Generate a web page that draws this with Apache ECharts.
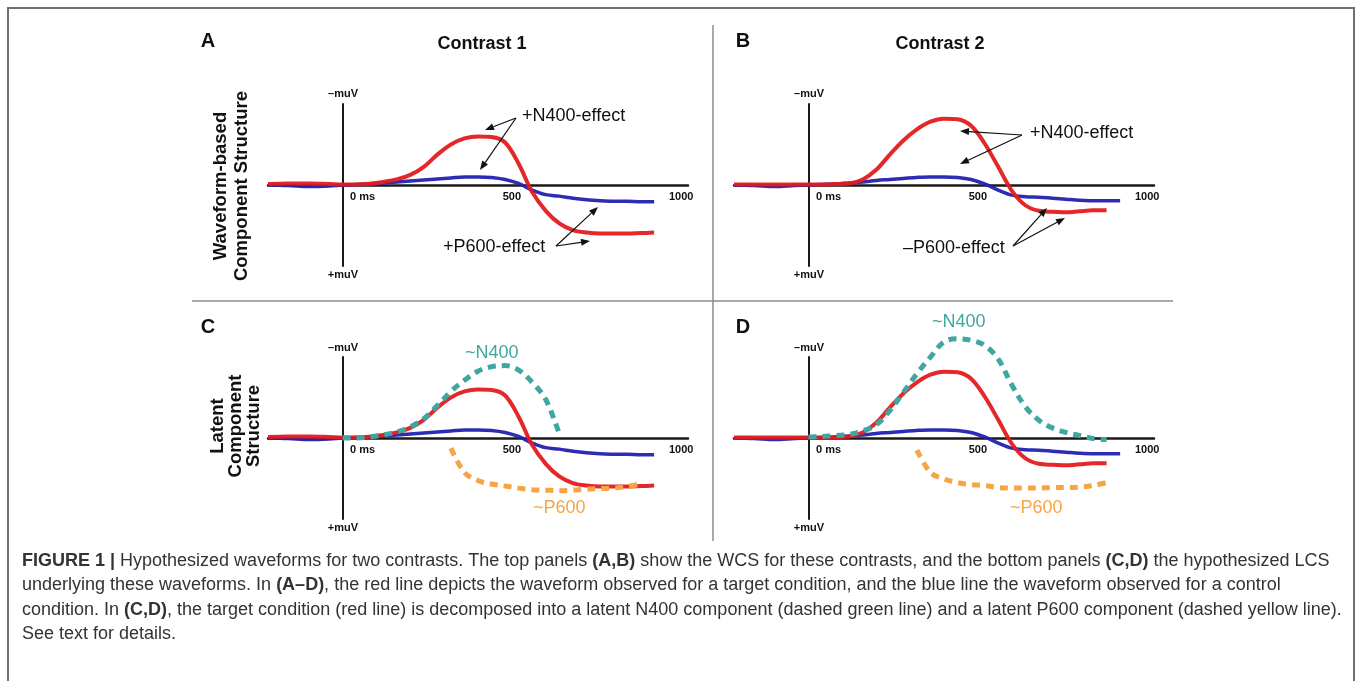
<!DOCTYPE html>
<html>
<head>
<meta charset="utf-8">
<script src="https://cdn.jsdelivr.net/npm/echarts@6/dist/echarts.min.js"></script>
<style>
  html, body { margin: 0; padding: 0; background: #fff; }
  #main { width: 1358px; height: 681px; }
</style>
</head>
<body>
<div id="main"></div>
<script>
// time in ms, amplitude in muV (negative is drawn upwards, ERP style)
var timesMs = [-220, -160, -100, -40, 0, 40, 80, 120, 160, 200,
               240, 280, 320, 360, 400, 440, 480, 520, 560, 600,
               640, 680, 720, 760, 800, 840, 880, 920];

// observed waveforms, contrast 1 (panels A and C)
var redContrast1  = [-0.1, -0.15, -0.15, -0.1, -0.05, -0.05, -0.12, -0.3, -0.55, -1.0,
                     -1.8, -3.0, -4.0, -4.6, -4.8, -4.75, -4.2, -2.1, 0.7, 2.55,
                     3.8, 4.45, 4.7, 4.8, 4.8, 4.8, 4.75, 4.7];
var blueContrast1 = [0, 0.05, 0.15, 0.1, 0, -0.05, -0.1, -0.2, -0.3, -0.4,
                     -0.5, -0.6, -0.7, -0.8, -0.8, -0.75, -0.55, -0.15, 0.5, 0.95,
                     1.1, 1.3, 1.45, 1.55, 1.6, 1.6, 1.65, 1.65];
// observed waveforms, contrast 2 (panels B and D)
var redContrast2  = [-0.05, -0.05, -0.05, -0.05, -0.05, -0.05, -0.1, -0.15, -0.55, -1.5,
                     -3.0, -4.4, -5.5, -6.25, -6.55, -6.5, -5.85, -4.1, -1.8, 0.55,
                     2.0, 2.55, 2.65, 2.7, 2.6, 2.5, 2.5, null];
var blueContrast2 = [0, 0.05, 0.15, 0.05, 0, -0.05, -0.1, -0.2, -0.3, -0.45,
                     -0.55, -0.65, -0.75, -0.8, -0.8, -0.75, -0.55, -0.1, 0.5, 1.0,
                     1.15, 1.2, 1.3, 1.4, 1.5, 1.55, 1.55, 1.55];
// latent components (panels C and D)
var n400Contrast1 = [null, null, null, null, 0, 0, -0.1, -0.3, -0.6, -1.1,
                     -1.9, -3.2, -4.6, -5.7, -6.6, -7.05, -7.15, -6.7, -5.5, -3.8,
                     -0.4, null, null, null, null, null, null, null];
var p600Contrast1 = [null, null, null, null, null, null, null, null, null, null,
                     null, null, 1.0, 3.4, 4.2, 4.55, 4.75, 4.95, 5.1, 5.15,
                     5.2, 5.15, 5.05, 5.0, 4.95, 4.8, 4.55, null];
var n400Contrast2 = [null, null, null, null, -0.1, -0.15, -0.25, -0.35, -0.7, -1.3,
                     -2.7, -4.5, -6.35, -8.0, -9.5, -9.8, -9.65, -9.15, -7.8, -5.25,
                     -3.1, -1.75, -1.0, -0.55, -0.25, 0.05, 0.15, null];
var p600Contrast2 = [null, null, null, null, null, null, null, null, null, null,
                     null, null, 1.2, 3.4, 4.05, 4.4, 4.6, 4.7, 4.9, 4.95,
                     4.95, 4.95, 4.9, 4.9, 4.85, 4.7, 4.4, null];

var xTickValues = [0, 500, 1000];

var RED = '#e31b1d', BLUE = '#2222b0', TEAL = '#3ea7a1', ORANGE = '#f7a443', INK = '#1a1a1a';
var FONT = '"Liberation Sans", Arial, sans-serif';
var GRID_H = 162;

var panels = [
    { left: 268, top: 104, red: redContrast1, blue: blueContrast1 },
    { left: 734, top: 104, red: redContrast2, blue: blueContrast2 },
    { left: 268, top: 357, red: redContrast1, blue: blueContrast1, n400: n400Contrast1, p600: p600Contrast1 },
    { left: 734, top: 357, red: redContrast2, blue: blueContrast2, n400: n400Contrast2, p600: p600Contrast2 }
];

function pairs(vals) {
    return timesMs.map(function (t, i) {
        return [t, vals[i] == null ? '-' : vals[i]];
    });
}

var grids = [], xAxes = [], yAxes = [], series = [];
panels.forEach(function (p, i) {
    grids.push({ left: p.left, top: p.top, width: 420, height: GRID_H });
    // x axis drawn through the zero line of the symmetric y range (-8..8)
    xAxes.push({
        type: 'value', gridIndex: i, min: -220, max: 1020,
        offset: -GRID_H / 2,
        axisLine: { onZero: false, lineStyle: { color: INK, width: 2.5 } },
        axisTick: { show: false },
        splitLine: { show: false },
        axisLabel: {
            customValues: xTickValues,
            margin: 6,
            fontSize: 11, fontWeight: 'bold', color: '#111', fontFamily: FONT,
            formatter: function (v) { return v === 0 ? '{z|0 ms}' : String(v); },
            rich: { z: { fontSize: 11, fontWeight: 'bold', color: '#111', fontFamily: FONT, padding: [0, 0, 0, 40] } }
        }
    });
    yAxes.push({
        type: 'value', gridIndex: i, min: -8, max: 8, inverse: true,
        axisLine: { onZero: true, lineStyle: { color: INK, width: 2 } },
        axisTick: { show: false }, axisLabel: { show: false }, splitLine: { show: false }
    });
    var base = { type: 'line', xAxisIndex: i, yAxisIndex: i, showSymbol: false, smooth: 0.35,
                 clip: false, silent: true, animation: false };
    series.push(Object.assign({}, base, { data: pairs(p.blue), z: 3,
        lineStyle: { color: BLUE, width: 3.5, opacity: 0.95 } }));
    series.push(Object.assign({}, base, { data: pairs(p.red), z: 4,
        lineStyle: { color: RED, width: 4, opacity: 0.95 } }));
    if (p.n400) {
        series.push(Object.assign({}, base, { data: pairs(p.n400), z: 5,
            lineStyle: { color: TEAL, width: 5, type: [8, 6] } }));
        series.push(Object.assign({}, base, { data: pairs(p.p600), z: 5,
            lineStyle: { color: ORANGE, width: 5, type: [8, 6] } }));
    }
});

// ---- annotations ----
function txt(s, x, y, opt) {
    opt = opt || {};
    return { type: 'text', x: x, y: y, rotation: opt.rot || 0, z: 10,
        style: { text: s, x: 0, y: 0, fill: opt.color || '#111',
                 font: (opt.weight || 'normal') + ' ' + (opt.size || 18) + 'px ' + FONT,
                 align: opt.align || 'left', verticalAlign: 'middle',
                 lineHeight: opt.lh, rich: opt.rich } };
}
function arrow(x1, y1, x2, y2) {
    var a = Math.atan2(y2 - y1, x2 - x1), L = 9, W = 3.5;
    var bx = x2 - L * Math.cos(a), by = y2 - L * Math.sin(a);
    return [
        { type: 'line', z: 10, shape: { x1: x1, y1: y1, x2: bx, y2: by }, style: { stroke: '#111', lineWidth: 1.2 } },
        { type: 'polygon', z: 10, shape: { points: [[x2, y2],
            [bx + W * Math.sin(a), by - W * Math.cos(a)],
            [bx - W * Math.sin(a), by + W * Math.cos(a)]] }, style: { fill: '#111' } }
    ];
}

var gfx = [
    { type: 'rect', z: 1, shape: { x: 8, y: 8, width: 1346, height: 720 }, style: { fill: 'none', stroke: '#707070', lineWidth: 2 } },
    { type: 'line', z: 1, shape: { x1: 713, y1: 25, x2: 713, y2: 541 }, style: { stroke: '#8c8c8c', lineWidth: 1.5 } },
    { type: 'line', z: 1, shape: { x1: 192, y1: 301, x2: 1173, y2: 301 }, style: { stroke: '#8c8c8c', lineWidth: 1.5 } },
    txt('A', 208, 41, { weight: 'bold', size: 20, align: 'center' }),
    txt('B', 743, 41, { weight: 'bold', size: 20, align: 'center' }),
    txt('C', 208, 327, { weight: 'bold', size: 20, align: 'center' }),
    txt('D', 743, 327, { weight: 'bold', size: 20, align: 'center' }),
    txt('Contrast 1', 482, 44, { weight: 'bold', size: 18, align: 'center' }),
    txt('Contrast 2', 940, 44, { weight: 'bold', size: 18, align: 'center' }),
    txt('Waveform-based\nComponent Structure', 231, 186, { weight: 'bold', size: 18.5, align: 'center', rot: Math.PI / 2, lh: 21 }),
    txt('Latent\nComponent\nStructure', 236, 426, { weight: 'bold', size: 18.5, align: 'center', rot: Math.PI / 2, lh: 18 }),
    txt('+N400-effect', 522, 116),
    txt('+P600-effect', 443, 247),
    txt('+N400-effect', 1030, 133),
    txt('\u2013P600-effect', 903, 248),
    txt('~N400', 465, 353, { color: TEAL }),
    txt('~P600', 533, 508, { color: ORANGE }),
    txt('~N400', 932, 322, { color: TEAL }),
    txt('~P600', 1010, 508, { color: ORANGE })
];
[[343, 94, 275], [809, 94, 275], [343, 348, 528], [809, 348, 528]].forEach(function (m) {
    gfx.push(txt('\u2013muV', m[0], m[1], { weight: 'bold', size: 11, align: 'center' }));
    gfx.push(txt('+muV', m[0], m[2], { weight: 'bold', size: 11, align: 'center' }));
});
[[516, 118, 485, 130], [516, 118, 480, 170], [556, 246, 598, 207], [556, 246, 590, 241],
 [1022, 135, 960, 131], [1022, 135, 960, 164], [1013, 246, 1047, 208], [1013, 246, 1065, 218]]
    .forEach(function (a) { gfx = gfx.concat(arrow(a[0], a[1], a[2], a[3])); });

// caption
var CAP = 18;
var capRich = { b: { fontWeight: 'bold', fontSize: CAP, fontFamily: FONT, fill: '#333' } };
var captionLines = [
    '{b|FIGURE 1 |} Hypothesized waveforms for two contrasts. The top panels {b|(A,B)} show the WCS for these contrasts, and the bottom panels {b|(C,D)} the hypothesized LCS',
    'underlying these waveforms. In {b|(A\u2013D)}, the red line depicts the waveform observed for a target condition, and the blue line the waveform observed for a control',
    'condition. In {b|(C,D)}, the target condition (red line) is decomposed into a latent N400 component (dashed green line) and a latent P600 component (dashed yellow line).',
    'See text for details.'
];
captionLines.forEach(function (s, i) {
    gfx.push(txt(s, 22, 561 + i * 24.5, { size: CAP, color: '#333', rich: capRich }));
});

var chart = echarts.init(document.getElementById('main'), null, { renderer: 'canvas' });
chart.setOption({
    animation: false,
    backgroundColor: '#fff',
    grid: grids,
    xAxis: xAxes,
    yAxis: yAxes,
    series: series,
    graphic: gfx
});
</script>
</body>
</html>
